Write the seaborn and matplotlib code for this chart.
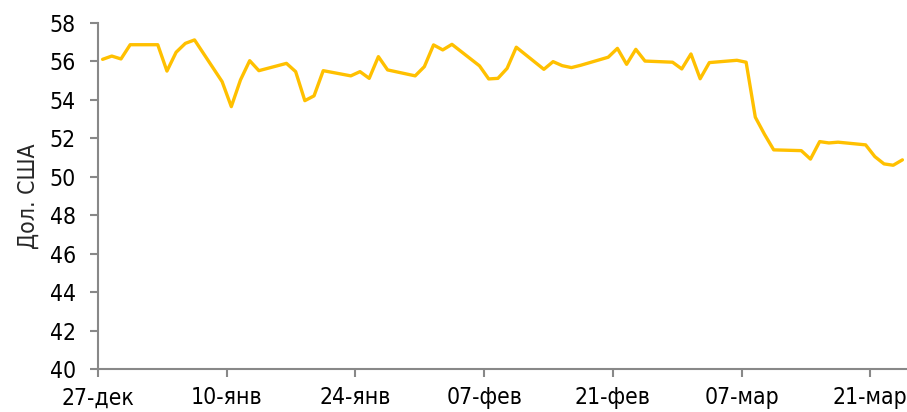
import numpy as np
import pandas as pd
import seaborn as sns
import matplotlib.pyplot as plt

# trading days 27.12.2022 - 24.03.2023
dates = pd.bdate_range("2022-12-27", "2023-03-24")
values = [
    56.11, 56.28, 56.13, 56.87,
    56.87, 55.50, 56.48, 56.94, 57.12,
    54.95, 53.65, 55.04, 56.04, 55.52,
    55.90, 55.47, 53.96, 54.21, 55.52,
    55.25, 55.47, 55.12, 56.25, 55.56,
    55.25, 55.73, 56.86, 56.60, 56.89,
    55.77, 55.09, 55.12, 55.64, 56.74,
    55.59, 55.99, 55.78, 55.68, 55.80,
    56.22, 56.68, 55.85, 56.63, 56.02,
    55.96, 55.61, 56.39, 55.10, 55.94,
    56.06, 55.96, 53.10, 52.21, 51.40,
    51.36, 50.92, 51.83, 51.76, 51.80,
    51.66, 51.05, 50.67, 50.60, 50.88,
]
tick_dates = pd.to_datetime(["2022-12-27", "2023-01-10", "2023-01-24", "2023-02-07",
                             "2023-02-21", "2023-03-07", "2023-03-21"])
tick_labels = ["27-дек", "10-янв", "24-янв", "07-фев", "21-фев", "07-мар", "21-мар"]
y_ticks = np.arange(40, 59, 2)

sns.set_style("white")
plt.rcParams['font.family'] = ['DejaVu Sans']
plt.rcParams['font.stretch'] = 'condensed'

fig = plt.figure(figsize=(9.07, 4.12), dpi=100)
ax = fig.add_axes([98 / 907, 1 - 369 / 412, 809 / 907, 346 / 412])

# Excel date axis puts each point in the middle of its day
df = pd.DataFrame({"date": dates + pd.Timedelta(hours=12), "value": values})
sns.lineplot(data=df, x="date", y="value", ax=ax, color="#FFC000", linewidth=2.4)

ax.set_ylim(40, 58)
ax.set_yticks(y_ticks)
ax.set_xlim(pd.Timestamp("2022-12-27"), pd.Timestamp("2023-03-25"))
ax.set_xticks(tick_dates)
ax.set_xticklabels(tick_labels)
ax.set_xlabel("")
ax.set_ylabel("Дол. США", fontsize=16.5, labelpad=7)

for side in ["top", "right"]:
    ax.spines[side].set_visible(False)
for side in ["left", "bottom"]:
    ax.spines[side].set_color("#888888")
    ax.spines[side].set_linewidth(1.5)
ax.tick_params(axis="both", which="major", labelsize=16.5, colors="#888888",
               labelcolor="black", width=1.5)
ax.tick_params(axis="y", left=True, length=6, pad=10)
ax.tick_params(axis="x", bottom=True, length=5.5, pad=7)

fig.savefig("out.png", dpi=100)
